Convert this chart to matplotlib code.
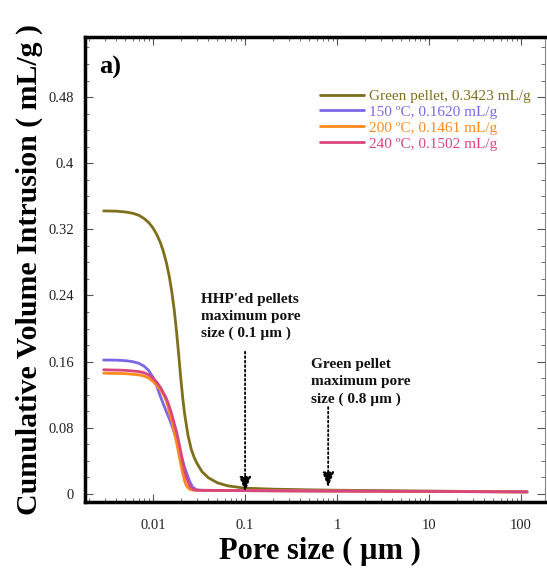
import matplotlib
matplotlib.use("Agg")
import matplotlib.pyplot as plt
from matplotlib.ticker import FixedLocator, MultipleLocator, LogLocator, NullFormatter, FixedFormatter

plt.rcParams['font.family'] = ['Liberation Serif', 'DejaVu Serif']

# ---- data ----
green_x = [0.0029, 0.004, 0.005, 0.006, 0.007, 0.008, 0.009, 0.010, 0.011, 0.012, 0.013, 0.014, 0.015,
           0.016, 0.017, 0.018, 0.019, 0.020, 0.021, 0.022, 0.024, 0.026, 0.028, 0.030, 0.034, 0.040,
           0.050, 0.065, 0.1, 0.2, 0.5, 1, 3, 10, 30, 116]
green_y = [0.3423, 0.3420, 0.3410, 0.3395, 0.3370, 0.3330, 0.3280, 0.3215, 0.3135, 0.3040, 0.2925,
           0.2790, 0.2630, 0.2440, 0.2220, 0.1960, 0.1680, 0.1400, 0.1160, 0.0970, 0.0705, 0.0540,
           0.0440, 0.0370, 0.0270, 0.0195, 0.0135, 0.0098, 0.0070, 0.0058, 0.0050, 0.0045, 0.0040,
           0.0035, 0.0030, 0.0025]

p150_x = [0.0029, 0.004, 0.005, 0.006, 0.007, 0.008, 0.009, 0.010, 0.011, 0.012, 0.013, 0.014, 0.015,
          0.016, 0.017, 0.018, 0.019, 0.020, 0.021, 0.022, 0.023, 0.025, 0.027, 0.030, 0.035, 0.1, 1,
          10, 116]
p150_y = [0.1620, 0.1618, 0.1612, 0.1600, 0.1580, 0.1545, 0.1490, 0.1410, 0.1300, 0.1180, 0.1080,
          0.0990, 0.0910, 0.0830, 0.0740, 0.0660, 0.0570, 0.0480, 0.0400, 0.0320, 0.0260, 0.0150,
          0.0080, 0.0048, 0.0042, 0.0040, 0.0035, 0.0030, 0.0025]

p200_x = [0.0029, 0.005, 0.007, 0.008, 0.009, 0.010, 0.011, 0.012, 0.013, 0.014, 0.015, 0.016, 0.017,
          0.018, 0.019, 0.020, 0.021, 0.022, 0.023, 0.025, 0.028, 0.1, 1, 10, 116]
p200_y = [0.1461, 0.1455, 0.1440, 0.1425, 0.1400, 0.1360, 0.1310, 0.1260, 0.1200, 0.1120, 0.1000,
          0.0880, 0.0750, 0.0620, 0.0490, 0.0360, 0.0250, 0.0160, 0.0100, 0.0055, 0.0045, 0.0040,
          0.0035, 0.0030, 0.0025]

p240_x = [0.0029, 0.005, 0.007, 0.008, 0.009, 0.010, 0.011, 0.012, 0.013, 0.014, 0.015, 0.016, 0.017,
          0.018, 0.019, 0.020, 0.021, 0.022, 0.023, 0.025, 0.0275, 0.030, 0.1, 1, 10, 116]
p240_y = [0.1502, 0.1495, 0.1480, 0.1465, 0.1440, 0.1400, 0.1350, 0.1290, 0.1220, 0.1150, 0.1060,
          0.0960, 0.0850, 0.0750, 0.0630, 0.0510, 0.0390, 0.0280, 0.0200, 0.0100, 0.0052, 0.0045,
          0.0040, 0.0035, 0.0030, 0.0025]

series_labels = ["Green pellet, 0.3423 mL/g", "150 \u00baC, 0.1620 mL/g",
                 "200 \u00baC, 0.1461 mL/g", "240 \u00baC, 0.1502 mL/g"]
series_colors = ["#7d6f1c", "#7b68e6", "#ff8a1e", "#d9467e"]

x_ticks = [0.01, 0.1, 1, 10, 100]
x_ticklabels = ["0.01", "0.1", "1", "10", "100"]
y_ticks = [0, 0.08, 0.16, 0.24, 0.32, 0.4, 0.48]
y_ticklabels = ["0", "0.08", "0.16", "0.24", "0.32", "0.4", "0.48"]

arrow_x = [0.1, 0.8]
arrow_top = [0.172, 0.105]
arrow_tip = [0.0025, 0.008]
arrow_texts = ["HHP'ed pellets\nmaximum pore\nsize ( 0.1 \u00b5m )",
               "Green pellet\nmaximum pore\nsize ( 0.8 \u00b5m )"]
text_x = [0.033, 0.52]
text_y = [0.243, 0.164]

# ---- figure ----
fig = plt.figure(figsize=(5.47, 5.69), dpi=100)
ax = fig.add_axes([0.1554, 0.1178, 0.841, 0.817])

for xs, ys, c, lab in zip([green_x, p150_x, p200_x, p240_x],
                          [green_y, p150_y, p200_y, p240_y],
                          series_colors, series_labels):
    ax.plot(xs, ys, color=c, lw=2, label=lab, solid_capstyle='round', solid_joinstyle='round')

ax.set_xscale('log')
ax.set_xlim(0.00182, 182)
ax.set_ylim(-0.0097, 0.5525)

ax.xaxis.set_major_locator(FixedLocator(x_ticks))
ax.xaxis.set_major_formatter(FixedFormatter(x_ticklabels))
ax.xaxis.set_minor_locator(LogLocator(base=10, subs=range(2, 10), numticks=20))
ax.xaxis.set_minor_formatter(NullFormatter())
ax.yaxis.set_major_locator(FixedLocator(y_ticks))
ax.yaxis.set_major_formatter(FixedFormatter(y_ticklabels))
ax.yaxis.set_minor_locator(MultipleLocator(0.02))

ax.tick_params(which='both', direction='in', top=True, right=True, colors='#555555',
               labelcolor='#222222', labelsize=10.5)
ax.tick_params(which='major', length=6, width=0.8)
ax.tick_params(which='minor', length=3, width=0.6)
ax.tick_params(axis='x', pad=12)
ax.tick_params(axis='y', pad=8)

for s in ['left', 'bottom', 'top']:
    ax.spines[s].set_linewidth(2.5)
    ax.spines[s].set_color('black')
ax.spines['right'].set_linewidth(0.8)
ax.spines['right'].set_color('#888888')

ax.set_xlabel("Pore size ( \u00b5m )", fontsize=22, fontweight='bold', labelpad=2)
ax.xaxis.set_label_coords(0.51, -0.075)
ax.set_ylabel("Cumulative Volume Intrusion ( mL/g )", fontsize=21.5, fontweight='bold', labelpad=4)

ax.text(0.03, 0.935, "a)", transform=ax.transAxes, fontsize=19, fontweight='bold', va='center')

leg = ax.legend(loc='upper left', bbox_to_anchor=(0.511, 0.888), frameon=False, fontsize=11,
                handlelength=2.9, handletextpad=0.3, labelspacing=0.15,
                borderpad=0, borderaxespad=0)
for t, c in zip(leg.get_texts(), series_colors):
    t.set_color(c)

# annotation arrows
for xa, yt, yb, txt, tx, ty in zip(arrow_x, arrow_top, arrow_tip, arrow_texts, text_x, text_y):
    ax.annotate("", xy=(xa, yb), xytext=(xa, yt),
                arrowprops=dict(arrowstyle='-|>,head_length=0.9,head_width=0.35',
                                linestyle=(0, (1, 1.5)),
                                color='black', lw=1.3, shrinkA=0, shrinkB=0))
    ax.text(tx, ty, txt, fontsize=11, fontweight='bold', va='top', ha='left',
            linespacing=1.38, color='#111111')

fig.savefig("out.png", dpi=100)
